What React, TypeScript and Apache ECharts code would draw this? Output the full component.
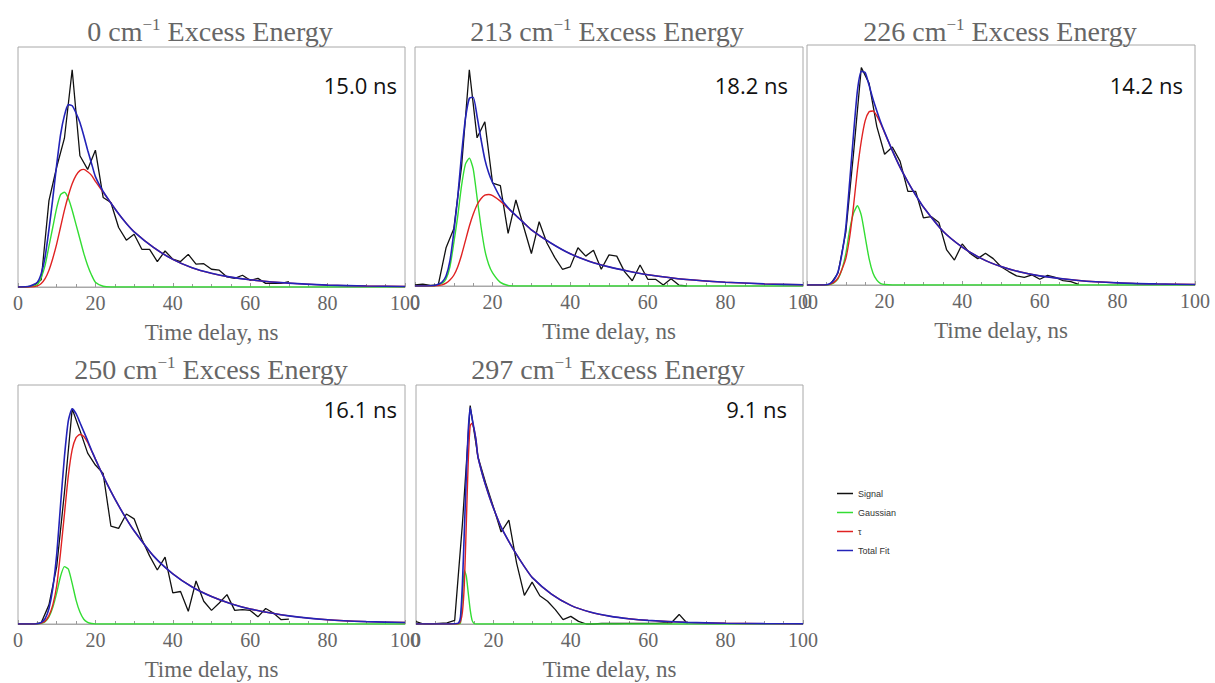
import React, { useEffect, useRef } from "react";
import * as echarts from "echarts";

// Time grids (ns)
const SIG_T = [0, 2, 4, 6, 8, 10, 12, 14, 16, 18, 20, 22, 24, 26, 28, 30, 32, 34, 36, 38, 40, 42, 44, 46, 48, 50, 52, 54, 56, 58, 60, 62, 64, 66, 68, 70];
const FIT_T = [0, 3, 5, 6, 7, 8, 9, 10, 11, 12, 13, 14, 15, 16, 17, 18, 19, 20, 22, 24, 26, 28, 30, 35, 40, 45, 50, 55, 60, 70, 80, 90, 100];
const FIT_T5 = [0, 8, 10, 11, 11.5, 12, 12.5, 13, 13.5, 14, 14.5, 15, 15.5, 16, 17, 18, 19, 20, 22, 24, 26, 28, 30, 35, 40, 45, 50, 55, 60, 70, 80, 90, 100];

const X_TICKS = [0, 20, 40, 60, 80, 100];

// 0 cm-1
const SIGNAL_0 = [0, 0, 0.005, 0.03, 0.36, 0.5, 0.62, 0.905, 0.547, 0.49, 0.57, 0.373, 0.352, 0.248, 0.195, 0.22, 0.157, 0.157, 0.106, 0.15, 0.116, 0.106, 0.136, 0.095, 0.097, 0.074, 0.07, 0.042, 0.036, 0.049, 0.028, 0.036, 0.015, 0.015, 0.015, 0.022];
const GAUSS_0 = [0, 0.002, 0.01, 0.04, 0.09, 0.17, 0.25, 0.33, 0.385, 0.395, 0.37, 0.32, 0.26, 0.2, 0.14, 0.09, 0.05, 0.02, 0.003, 0, 0, 0, 0, 0, 0, 0, 0, 0, 0, 0, 0, 0, 0];
const TAU_0 = [0, 0, 0.005, 0.015, 0.035, 0.07, 0.12, 0.18, 0.25, 0.32, 0.38, 0.43, 0.465, 0.485, 0.49, 0.48, 0.465, 0.44, 0.395, 0.35, 0.305, 0.265, 0.23, 0.165, 0.115, 0.08, 0.057, 0.041, 0.03, 0.016, 0.008, 0.004, 0.002];
const TOTAL_0 = [0, 0.003, 0.02, 0.055, 0.125, 0.24, 0.37, 0.51, 0.635, 0.715, 0.76, 0.755, 0.725, 0.685, 0.63, 0.57, 0.515, 0.46, 0.398, 0.35, 0.305, 0.265, 0.23, 0.165, 0.115, 0.08, 0.057, 0.041, 0.03, 0.016, 0.008, 0.004, 0.002];

// 213 cm-1
const SIGNAL_213 = [0.005, 0.008, 0.003, 0.005, 0.16, 0.24, 0.5, 0.905, 0.62, 0.687, 0.43, 0.42, 0.22, 0.36, 0.248, 0.136, 0.269, 0.18, 0.12, 0.07, 0.08, 0.16, 0.125, 0.15, 0.07, 0.13, 0.125, 0.06, 0.022, 0.088, 0.028, 0.028, 0.004, 0.03, 0.004, 0];
const GAUSS_213 = [0, 0, 0, 0.005, 0.012, 0.03, 0.08, 0.18, 0.29, 0.42, 0.51, 0.535, 0.49, 0.37, 0.25, 0.15, 0.09, 0.055, 0.015, 0.002, 0, 0, 0, 0, 0, 0, 0, 0, 0, 0, 0, 0, 0];
const TAU_213 = [0, 0, 0, 0.002, 0.005, 0.012, 0.025, 0.045, 0.08, 0.13, 0.19, 0.25, 0.3, 0.34, 0.365, 0.38, 0.383, 0.378, 0.355, 0.325, 0.295, 0.265, 0.235, 0.18, 0.135, 0.103, 0.08, 0.062, 0.047, 0.027, 0.016, 0.009, 0.005];
const TOTAL_213 = [0, 0, 0.002, 0.007, 0.017, 0.042, 0.105, 0.225, 0.37, 0.55, 0.7, 0.785, 0.79, 0.71, 0.615, 0.53, 0.473, 0.433, 0.37, 0.327, 0.295, 0.265, 0.235, 0.18, 0.135, 0.103, 0.08, 0.062, 0.047, 0.027, 0.016, 0.009, 0.005];

// 226 cm-1
const SIGNAL_226 = [0, 0, 0, 0.003, 0.05, 0.22, 0.55, 0.906, 0.84, 0.66, 0.545, 0.575, 0.515, 0.39, 0.39, 0.28, 0.285, 0.26, 0.146, 0.104, 0.171, 0.132, 0.11, 0.132, 0.11, 0.076, 0.056, 0.038, 0.032, 0.042, 0.024, 0.04, 0.032, 0.018, 0.014, 0.003];
const GAUSS_226 = [0, 0, 0, 0.003, 0.01, 0.025, 0.065, 0.13, 0.23, 0.3, 0.33, 0.29, 0.2, 0.11, 0.05, 0.02, 0.006, 0.002, 0, 0, 0, 0, 0, 0, 0, 0, 0, 0, 0, 0, 0, 0, 0];
const TAU_226 = [0, 0, 0.001, 0.004, 0.012, 0.03, 0.065, 0.11, 0.2, 0.33, 0.48, 0.6, 0.685, 0.722, 0.725, 0.705, 0.672, 0.635, 0.56, 0.49, 0.43, 0.375, 0.325, 0.225, 0.158, 0.11, 0.077, 0.054, 0.038, 0.019, 0.009, 0.0045, 0.002];
const TOTAL_226 = [0, 0, 0.001, 0.007, 0.022, 0.055, 0.13, 0.24, 0.43, 0.63, 0.81, 0.89, 0.885, 0.832, 0.775, 0.725, 0.678, 0.637, 0.56, 0.49, 0.43, 0.375, 0.325, 0.225, 0.158, 0.11, 0.077, 0.054, 0.038, 0.019, 0.009, 0.0045, 0.002];

// 250 cm-1
const SIGNAL_250 = [0, 0, 0, 0.005, 0.08, 0.24, 0.55, 0.9, 0.81, 0.715, 0.665, 0.63, 0.41, 0.4, 0.46, 0.44, 0.355, 0.285, 0.226, 0.28, 0.13, 0.136, 0.053, 0.18, 0.095, 0.057, 0.088, 0.123, 0.057, 0.06, 0.057, 0.03, 0.065, 0.046, 0.018, 0.02];
const GAUSS_250 = [0, 0, 0, 0.003, 0.01, 0.03, 0.07, 0.13, 0.2, 0.24, 0.23, 0.17, 0.1, 0.05, 0.02, 0.007, 0.002, 0, 0, 0, 0, 0, 0, 0, 0, 0, 0, 0, 0, 0, 0, 0, 0];
const TAU_250 = [0, 0, 0.001, 0.004, 0.012, 0.035, 0.08, 0.16, 0.3, 0.46, 0.62, 0.73, 0.78, 0.793, 0.785, 0.76, 0.725, 0.69, 0.62, 0.555, 0.495, 0.44, 0.39, 0.285, 0.21, 0.155, 0.115, 0.085, 0.063, 0.034, 0.018, 0.01, 0.006];
const TOTAL_250 = [0, 0, 0.001, 0.007, 0.022, 0.065, 0.15, 0.29, 0.5, 0.7, 0.85, 0.9, 0.88, 0.843, 0.805, 0.767, 0.727, 0.69, 0.62, 0.555, 0.495, 0.44, 0.39, 0.285, 0.21, 0.155, 0.115, 0.085, 0.063, 0.034, 0.018, 0.01, 0.006];

// 297 cm-1
const SIGNAL_297 = [0.01, 0, 0, 0.003, 0.005, 0.015, 0.42, 0.914, 0.7, 0.59, 0.49, 0.385, 0.435, 0.255, 0.12, 0.175, 0.118, 0.095, 0.06, 0.018, 0.032, 0.011, 0, 0, 0.002, 0.002, 0.002, 0.003, 0.003, 0.003, 0.003, 0.003, 0.005, 0.005, 0.04, 0.004];
const GAUSS_297 = [0, 0, 0, 0, 0.005, 0.12, 0.225, 0.2, 0.13, 0.06, 0.015, 0.002, 0, 0, 0, 0, 0, 0, 0, 0, 0, 0, 0, 0, 0, 0, 0, 0, 0, 0, 0, 0, 0];
const TAU_297 = [0, 0, 0, 0.002, 0.01, 0.05, 0.17, 0.42, 0.68, 0.83, 0.84, 0.815, 0.77, 0.7, 0.635, 0.58, 0.53, 0.485, 0.405, 0.345, 0.29, 0.24, 0.195, 0.125, 0.078, 0.05, 0.033, 0.022, 0.015, 0.007, 0.003, 0.0015, 0.0007];
const TOTAL_297 = [0, 0, 0.001, 0.004, 0.03, 0.17, 0.395, 0.62, 0.81, 0.905, 0.86, 0.817, 0.77, 0.7, 0.635, 0.58, 0.53, 0.485, 0.405, 0.345, 0.29, 0.24, 0.195, 0.125, 0.078, 0.05, 0.033, 0.022, 0.015, 0.007, 0.003, 0.0015, 0.0007];

const ENERGIES = ["0", "213", "226", "250", "297"];
const LIFETIMES = ["15.0 ns", "18.2 ns", "14.2 ns", "16.1 ns", "9.1 ns"];
const SERIES_NAMES = ["Signal", "Gaussian", "τ", "Total Fit"];

const PANEL_DATA = [
  { fitT: FIT_T, signal: SIGNAL_0, gauss: GAUSS_0, tau: TAU_0, total: TOTAL_0 },
  { fitT: FIT_T, signal: SIGNAL_213, gauss: GAUSS_213, tau: TAU_213, total: TOTAL_213 },
  { fitT: FIT_T, signal: SIGNAL_226, gauss: GAUSS_226, tau: TAU_226, total: TOTAL_226 },
  { fitT: FIT_T, signal: SIGNAL_250, gauss: GAUSS_250, tau: TAU_250, total: TOTAL_250 },
  { fitT: FIT_T5, signal: SIGNAL_297, gauss: GAUSS_297, tau: TAU_297, total: TOTAL_297 },
];

// Layout (pixels)
const LAYOUT = [
  { left: 18, top: 47, width: 387, height: 240, titleX: 210, titleY: 31, labelX: 397, labelY: 85 },
  { left: 415, top: 47, width: 388, height: 239, titleX: 607, titleY: 31, labelX: 788, labelY: 85 },
  { left: 807, top: 45, width: 388, height: 240, titleX: 1000, titleY: 31, labelX: 1183, labelY: 85 },
  { left: 18, top: 385, width: 387, height: 239, titleX: 211, titleY: 369, labelX: 397, labelY: 409 },
  { left: 416, top: 385, width: 387, height: 239, titleX: 608, titleY: 369, labelX: 787, labelY: 409 },
];

const COLORS = ["#111111", "#33dd33", "#e02222", "#2323b8"];
const WIDTHS = [1.3, 1.4, 1.4, 1.6];
const FRAME = "#a8a8a8";
const SERIF = "'Liberation Serif', 'Times New Roman', serif";

const zip = (t: number[], v: number[]) => t.map((x, i) => [x, v[i]]);

export default function App() {
  const ref = useRef<HTMLDivElement>(null);
  useEffect(() => {
    if (!ref.current) return;
    const chart = echarts.init(ref.current, undefined, { renderer: "svg" });

    const grid = LAYOUT.map((l) => ({
      left: l.left,
      top: l.top,
      width: l.width,
      height: l.height,
      show: true,
      borderColor: FRAME,
      borderWidth: 1,
      backgroundColor: "#fff",
      containLabel: false,
    }));

    const xAxis = LAYOUT.map((_, i) => ({
      type: "value",
      gridIndex: i,
      min: X_TICKS[0],
      max: X_TICKS[X_TICKS.length - 1],
      interval: X_TICKS[1] - X_TICKS[0],
      name: "Time delay, ns",
      nameLocation: "middle",
      nameGap: 34,
      nameTextStyle: { fontFamily: SERIF, fontSize: 23, color: "#666" },
      axisLine: { show: true, lineStyle: { color: FRAME, width: 1 } },
      axisTick: { show: true, inside: true, length: 4, lineStyle: { color: "#999" } },
      minorTick: { show: true, splitNumber: 4, length: 3, lineStyle: { color: "#999" } },
      axisLabel: { fontFamily: SERIF, fontSize: 20, color: "#666", margin: 6 },
      splitLine: { show: false },
    }));

    const yAxis = LAYOUT.map((_, i) => ({
      type: "value",
      gridIndex: i,
      min: 0,
      max: 1,
      axisLine: { show: false },
      axisTick: { show: false },
      axisLabel: { show: false },
      splitLine: { show: false },
    }));

    const series: any[] = [];
    PANEL_DATA.forEach((p, i) => {
      const sets = [
        zip(SIG_T, p.signal),
        zip(p.fitT, p.gauss),
        zip(p.fitT, p.tau),
        zip(p.fitT, p.total),
      ];
      sets.forEach((d, k) => {
        series.push({
          type: "line",
          name: SERIES_NAMES[k],
          xAxisIndex: i,
          yAxisIndex: i,
          data: d,
          symbol: "none",
          smooth: k === 0 ? false : 0.2,
          lineStyle: { color: COLORS[k], width: WIDTHS[k] },
          itemStyle: { color: COLORS[k] },
          z: 2 + k,
        });
      });
    });

    const graphic: any[] = [];
    LAYOUT.forEach((l, i) => {
      graphic.push({
        type: "text",
        x: l.titleX,
        y: l.titleY,
        style: {
          text: `{n|${ENERGIES[i]} cm}{s|−1}{n| Excess Energy}`,
          align: "center",
          verticalAlign: "middle",
          textAlign: "center",
          textVerticalAlign: "middle",
          fill: "#666",
          rich: {
            n: { fontFamily: SERIF, fontSize: 28, lineHeight: 30, color: "#666" },
            s: { fontFamily: SERIF, fontSize: 17, lineHeight: 18, verticalAlign: "top", color: "#666" },
          },
        },
      });
      graphic.push({
        type: "text",
        x: l.labelX,
        y: l.labelY,
        style: {
          text: LIFETIMES[i],
          align: "right",
          verticalAlign: "middle",
          textAlign: "right",
          textVerticalAlign: "middle",
          fill: "#111",
          font: "22px 'Open Sans', 'Noto Sans', sans-serif",
        },
      });
    });

    chart.setOption({
      animation: false,
      backgroundColor: "#fff",
      grid,
      xAxis,
      yAxis,
      series,
      legend: {
        data: SERIES_NAMES,
        orient: "vertical",
        left: 832,
        top: 484,
        icon: "rect",
        itemWidth: 16,
        itemHeight: 1.5,
        itemGap: 10,
        textStyle: { fontFamily: "'Liberation Sans', Arial, sans-serif", fontSize: 9, color: "#333" },
        selectedMode: false,
      },
      graphic,
    });
    return () => chart.dispose();
  }, []);
  return (
    <div
      ref={ref}
      style={{ position: "fixed", left: 0, top: 0, width: 1215, height: 683, background: "#fff" }}
    />
  );
}
